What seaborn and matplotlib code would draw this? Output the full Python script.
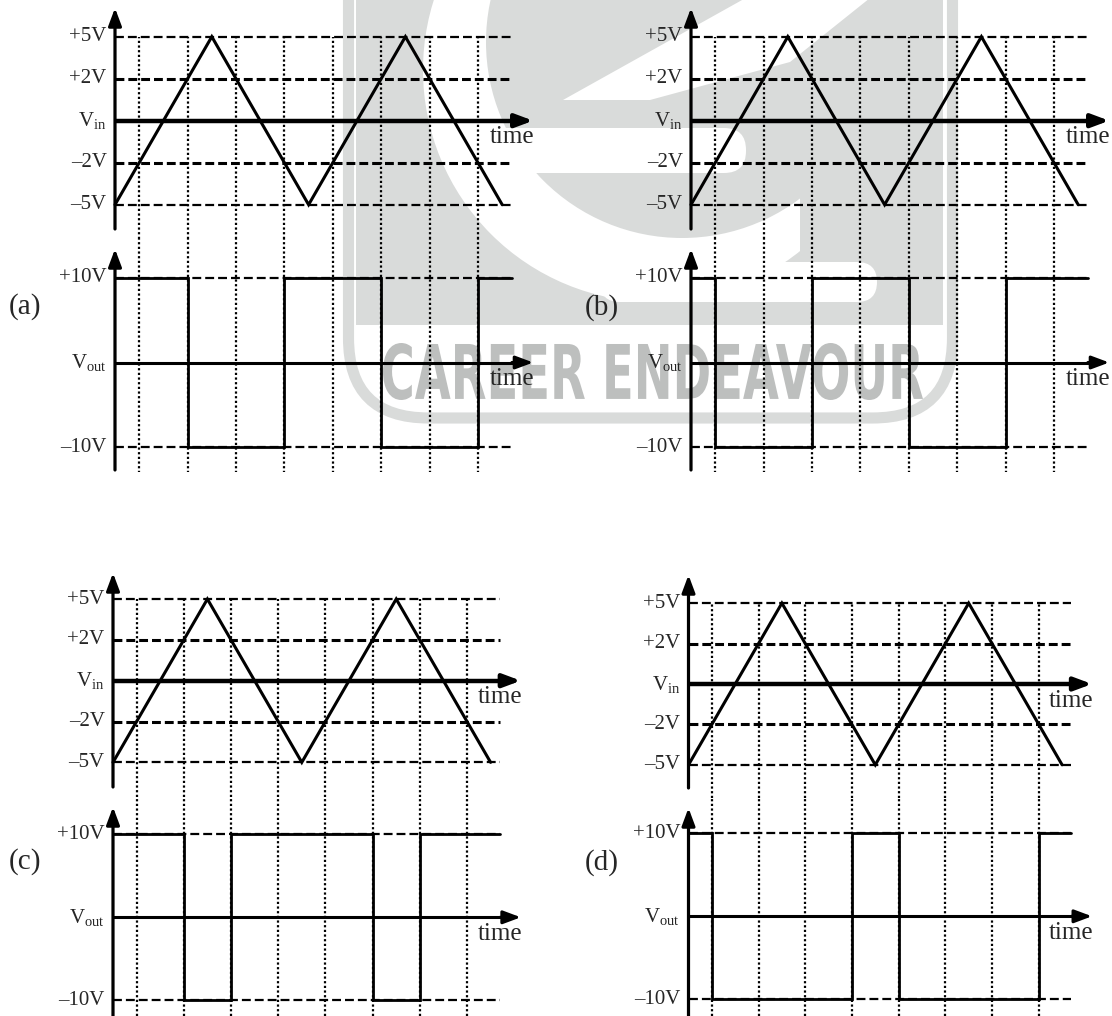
import matplotlib
matplotlib.use('Agg')
import matplotlib.pyplot as plt
import seaborn as sns
from matplotlib.patches import Rectangle, Circle, FancyBboxPatch, PathPatch, Polygon
from matplotlib.textpath import TextPath
from matplotlib.font_manager import FontProperties
from matplotlib.transforms import Affine2D

# ---- data ----
# triangular input, peaks every half period (t in grid steps)
tri_t = [0, 2, 4, 6, 8]
tri_v = [-5, 5, -5, 5, -5]
# vertical dotted grid
grid_t = [0.5, 1.5, 2.5, 3.5, 4.5, 5.5, 6.5, 7.5]
t_end = 8.2
# input levels (the +-2V lines sit half way on the sketch)
vin_ticks = [5, 2.5, 0, -2.5, -5]
vin_labels = ['+5V', '+2V', 'V$_{in}$', '\u20132V', '\u20135V']
vout_ticks = [10, 0, -10]
vout_labels = ['+10V', 'V$_{out}$', '\u201310V']

# output square waves: switching times and level held after each one
vout_a_t = [0, 1.5, 3.5, 5.5, 7.5, 8.2]
vout_a_v = [10, -10, 10, -10, 10, 10]
vout_b_t = [0, 0.5, 2.5, 4.5, 6.5, 8.2]
vout_b_v = [10, -10, 10, -10, 10, 10]
vout_c_t = [0, 1.5, 2.5, 5.5, 6.5, 8.2]
vout_c_v = [10, -10, 10, -10, 10, 10]
vout_d_t = [0, 0.5, 3.5, 4.5, 7.5, 8.2]
vout_d_v = [10, -10, 10, -10, 10, 10]

# ---- layout (pixels) ----
W, H = 1112, 1016
panels = [
    dict(name='(a)', vt=vout_a_t, vv=vout_a_v, x0=115, ux=48.4,
         in0=120.7, in_ppv=16.8, in_top=8, in_bot=229,
         out0=362.5, out_ppv=8.48, out_top=249, out_bot=470, grid_bot=473, lab=(25, 307)),
    dict(name='(b)', vt=vout_b_t, vv=vout_b_v, x0=691, ux=48.4,
         in0=120.7, in_ppv=16.8, in_top=8, in_bot=229,
         out0=362.5, out_ppv=8.48, out_top=249, out_bot=470, grid_bot=473, lab=(602, 308)),
    dict(name='(c)', vt=vout_c_t, vv=vout_c_v, x0=113, ux=47.2,
         in0=680.7, in_ppv=16.33, in_top=573, in_bot=787,
         out0=917.3, out_ppv=8.29, out_top=807, out_bot=1016, grid_bot=1016, lab=(25, 862)),
    dict(name='(d)', vt=vout_d_t, vv=vout_d_v, x0=688.5, ux=46.7,
         in0=684, in_ppv=16.17, in_top=575, in_bot=788,
         out0=916.3, out_ppv=8.3, out_top=808, out_bot=1016, grid_bot=1016, lab=(602, 863)),
]

sns.set_style('white')
plt.rcParams['font.family'] = ['Liberation Serif', 'DejaVu Serif']
plt.rcParams['mathtext.fontset'] = 'custom'
plt.rcParams['mathtext.rm'] = 'Liberation Serif'
plt.rcParams['mathtext.it'] = 'Liberation Serif'
plt.rcParams['mathtext.default'] = 'regular'

fig = plt.figure(figsize=(W / 100, H / 100), dpi=100)

# ---- watermark ----
wm = fig.add_axes([0, 0, 1, 1], zorder=0)
wm.set_xlim(0, W)
wm.set_ylim(H, 0)
wm.axis('off')
gray = '#d9dbda'
wm.add_patch(FancyBboxPatch((348.5, -150), 604, 568, boxstyle='round,pad=0,rounding_size=80',
                            fc='none', ec=gray, lw=8))
fill = Rectangle((356, -10), 587, 335, fc=gray, ec='none')
wm.add_patch(fill)
shapes = [
    Circle((655, 70), 232, fc='white', ec='none'),
    Circle((682, 42), 196, fc=gray, ec='none'),
    Rectangle((800, -10), 150, 262, fc=gray, ec='none'),
    FancyBboxPatch((600, 262), 277, 40, boxstyle='round,pad=0,rounding_size=20', fc='white', ec='none'),
    Polygon([(563, 100), (760, -10), (880, -10), (790, 62), (650, 100)], fc='white', ec='none'),
    FancyBboxPatch((480, 128), 266, 45, boxstyle='round,pad=0,rounding_size=22', fc='white', ec='none'),
]
for s in shapes:
    wm.add_patch(s)
    s.set_clip_path(fill)
tp = TextPath((0, 0), 'CAREER ENDEAVOUR', size=1, prop=FontProperties(family='DejaVu Sans', weight='bold'))
bb = tp.get_extents()
tr = Affine2D().translate(-bb.x0, -bb.y0).scale(540 / bb.width, -57 / bb.height).translate(383, 400)
wm.add_patch(PathPatch(tr.transform_path(tp), fc='#bdbfbe', ec='none'))


def px_axes(left, top, right, bottom):
    ax = fig.add_axes([left / W, 1 - bottom / H, (right - left) / W, (bottom - top) / H], zorder=2)
    ax.set_facecolor('none')
    ax.axis('off')
    return ax


def arrow(ax, start, end, lw):
    ax.annotate('', xy=end, xytext=start, annotation_clip=False,
                arrowprops=dict(arrowstyle='-|>,head_length=0.75,head_width=0.28', lw=lw, color='k',
                                mutation_scale=14, shrinkA=0, shrinkB=0))


dash5 = dict(color='k', lw=1.6, linestyle=(0, (4, 1.8)))
dash2 = dict(color='k', lw=2.2, linestyle=(0, (2.9, 1.3)))
dots = dict(color='k', lw=1.6, linestyle=(0, (1, 1.1)))

for p in panels:
    x0, ux = p['x0'], p['ux']
    left, right = x0 - 0.3 * ux, x0 + 9.2 * ux
    seam = (p['in_bot'] + p['out_top']) / 2

    # --- input ---
    ai = px_axes(left, p['in_top'] - 4, right, seam)
    ai.set_xlim(-0.3, 9.2)
    vtop = (p['in0'] - (p['in_top'] - 4)) / p['in_ppv']
    vbot = (p['in0'] - seam) / p['in_ppv']
    ai.set_ylim(vbot, vtop)
    for v in [5, -5]:
        ai.hlines(v, 0, t_end, **dash5)
    for v in [2.5, -2.5]:
        ai.hlines(v, 0, t_end, **dash2)
    ai.vlines(grid_t, vbot, 5, **dots)
    sns.lineplot(x=tri_t, y=tri_v, ax=ai, color='k', lw=2.2, sort=False, estimator=None,
                 solid_joinstyle='miter')
    arrow(ai, (t_end, 0), (8.64, 0), 3.2)
    ai.plot([0, 8.5], [0, 0], color='k', lw=3.2, solid_capstyle='butt')
    arrow(ai, (0, (p['in0'] - p['in_bot']) / p['in_ppv']), (0, (p['in0'] - p['in_top']) / p['in_ppv']), 2.3)
    for v, lab in zip(vin_ticks, vin_labels):
        ai.annotate(lab, xy=(0, v), xytext=(-6, 0), textcoords='offset points',
                    ha='right', va='center', fontsize=15)
    ai.annotate('time', xy=(8.64, 0), xytext=(1, -4), textcoords='offset points',
                ha='right', va='top', fontsize=18)

    # --- output ---
    ao = px_axes(left, seam, right, p['out_bot'] + 2)
    ao.set_xlim(-0.3, 9.2)
    otop = (p['out0'] - seam) / p['out_ppv']
    obot = (p['out0'] - p['out_bot'] - 2) / p['out_ppv']
    ao.set_ylim(obot, otop)
    for v in [10, -10]:
        ao.hlines(v, 0, t_end, **dash5)
    ao.vlines(grid_t, (p['out0'] - p['grid_bot']) / p['out_ppv'], otop, **dots)
    sns.lineplot(x=p['vt'], y=p['vv'], ax=ao, color='k', lw=2.0, sort=False, estimator=None,
                 drawstyle='steps-post', solid_joinstyle='miter')
    ao.plot([0, 8.5], [0, 0], color='k', lw=2.2, solid_capstyle='butt')
    arrow(ao, (t_end, 0), (8.64, 0), 2.2)
    arrow(ao, (0, (p['out0'] - p['out_bot']) / p['out_ppv']), (0, (p['out0'] - p['out_top']) / p['out_ppv']), 2.3)
    for v, lab in zip(vout_ticks, vout_labels):
        ao.annotate(lab, xy=(0, v), xytext=(-6, 0), textcoords='offset points',
                    ha='right', va='center', fontsize=15)
    ao.annotate('time', xy=(8.64, 0), xytext=(1, -4), textcoords='offset points',
                ha='right', va='top', fontsize=18)

    wm.text(p['lab'][0], p['lab'][1], p['name'], fontsize=21, ha='center', va='center')

fig.savefig('out.png', dpi=100)
